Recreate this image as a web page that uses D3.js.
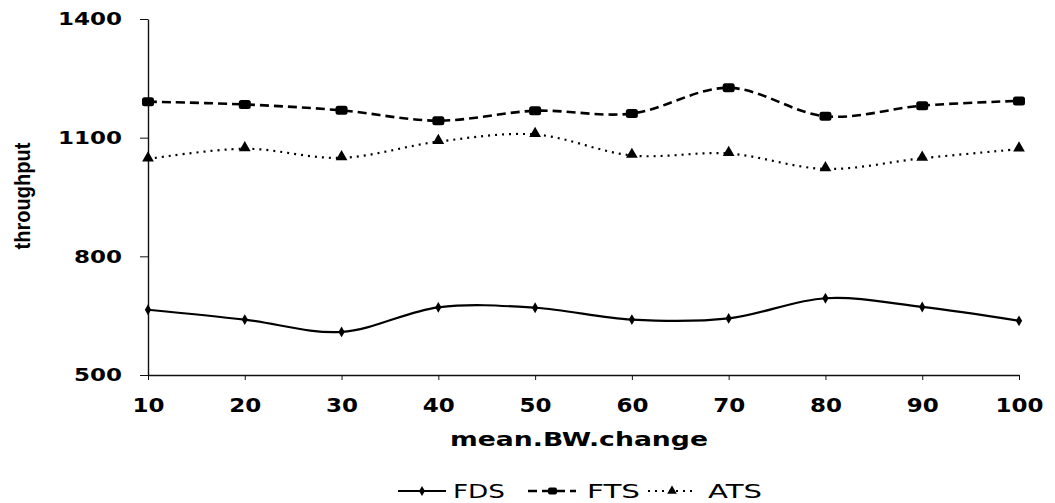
<!DOCTYPE html>
<html>
<head>
<meta charset="utf-8">
<script src="https://cdn.jsdelivr.net/npm/d3@7"></script>
<style>
  body { margin: 0; background: #fff; }
  svg { display: block; }
</style>
</head>
<body>
<div id="chart"></div>
<script>
// values
var categories = [10, 20, 30, 40, 50, 60, 70, 80, 90, 100];
var fds = [665, 640, 609, 671, 670, 640, 643, 694, 672, 637];
var fts = [1191, 1184, 1169, 1143, 1168, 1161, 1226, 1154, 1181, 1193];
var ats = [1046, 1072, 1049, 1090, 1108, 1055, 1060, 1021, 1048, 1071];
var yTicks = [500, 800, 1100, 1400];
var seriesNames = ["FDS", "FTS", "ATS"];

var width = 1055, height = 503;
var margin = { top: 19, right: 36, bottom: 128, left: 148 };

var svg = d3.select("#chart").append("svg")
  .attr("width", width)
  .attr("height", height);

var x = d3.scalePoint()
  .domain(categories)
  .range([margin.left, width - margin.right]);

var y = d3.scaleLinear()
  .domain([500, 1400])
  .range([height - margin.bottom, margin.top]);

var series = [
  { name: seriesNames[0], values: fds, dash: null, width: 2.2, marker: "diamond" },
  { name: seriesNames[1], values: fts, dash: "9,5", width: 2.6, marker: "square" },
  { name: seriesNames[2], values: ats, dash: "2,5", width: 2.2, marker: "triangle" }
];

// axes
var yAxis = svg.append("g")
  .attr("transform", "translate(" + margin.left + ",0)")
  .call(d3.axisLeft(y).tickValues(yTicks).tickFormat(d3.format("d"))
    .tickSize(8).tickSizeOuter(0).tickPadding(18));
yAxis.select(".domain").attr("stroke", "#111").attr("stroke-width", 1.4);
yAxis.selectAll(".tick line").attr("stroke", "#111");
yAxis.selectAll("text")
  .attr("fill", "#000")
  .attr("font-family", "DejaVu Sans")
  .attr("font-weight", "bold")
  .attr("font-size", "18px")
  .attr("textLength", d => String(d).length * 16)
  .attr("lengthAdjust", "spacingAndGlyphs");

var xAxis = svg.append("g")
  .attr("transform", "translate(0," + y(500) + ")")
  .call(d3.axisBottom(x).tickSize(5).tickSizeOuter(0).tickPadding(18));
xAxis.select(".domain").attr("stroke", "#111").attr("stroke-width", 1.6);
xAxis.selectAll(".tick line").attr("stroke", "#111");
xAxis.selectAll("text")
  .attr("fill", "#000")
  .attr("font-family", "DejaVu Sans")
  .attr("font-weight", "bold")
  .attr("font-size", "20px")
  .attr("textLength", d => String(d).length * 16)
  .attr("lengthAdjust", "spacingAndGlyphs");

// axis titles
svg.append("text")
  .attr("x", 579)
  .attr("y", 446)
  .attr("text-anchor", "middle")
  .attr("font-family", "DejaVu Sans")
  .attr("font-weight", "bold")
  .attr("font-size", "19px")
  .attr("textLength", 258)
  .attr("lengthAdjust", "spacingAndGlyphs")
  .text("mean.BW.change");

svg.append("text")
  .attr("transform", "translate(30,196) rotate(-90)")
  .attr("text-anchor", "middle")
  .attr("font-family", "Liberation Sans Narrow, Liberation Sans, sans-serif")
  .attr("font-weight", "bold")
  .attr("font-size", "22px")
  .attr("textLength", 107)
  .attr("lengthAdjust", "spacingAndGlyphs")
  .text("throughput");

// markers
function drawMarker(g, type, cx, cy) {
  if (type === "diamond") {
    g.append("path")
      .attr("d", d3.symbol().type(d3.symbolDiamond).size(34)())
      .attr("transform", "translate(" + cx + "," + cy + ")")
      .attr("fill", "#000");
  } else if (type === "square") {
    g.append("rect")
      .attr("x", cx - 6).attr("y", cy - 4.5)
      .attr("width", 12).attr("height", 9)
      .attr("rx", 2.5)
      .attr("fill", "#000");
  } else {
    g.append("path")
      .attr("d", d3.symbol().type(d3.symbolTriangle).size(60)())
      .attr("transform", "translate(" + cx + "," + (cy - 1) + ")")
      .attr("fill", "#000");
  }
}

var line = d3.line()
  .x((d, i) => x(categories[i]))
  .y(d => y(d))
  .curve(d3.curveCardinal.tension(0));

series.forEach(function(s) {
  var g = svg.append("g");
  g.append("path")
    .datum(s.values)
    .attr("d", line)
    .attr("fill", "none")
    .attr("stroke", "#000")
    .attr("stroke-width", s.width)
    .attr("stroke-dasharray", s.dash);
  s.values.forEach(function(v, i) {
    drawMarker(g, s.marker, x(categories[i]), y(v));
  });
});

// legend
var legendY = 491;
var legendItems = [
  { s: series[0], x0: 398, tx: 453, tw: 52 },
  { s: series[1], x0: 528, tx: 587, tw: 53 },
  { s: series[2], x0: 648, tx: 708, tw: 54 }
];
legendItems.forEach(function(it) {
  var g = svg.append("g");
  g.append("line")
    .attr("x1", it.x0).attr("x2", it.x0 + 48)
    .attr("y1", legendY).attr("y2", legendY)
    .attr("stroke", "#000")
    .attr("stroke-width", it.s.width)
    .attr("stroke-dasharray", it.s.dash);
  if (it.s.marker === "diamond") {
    g.append("path")
      .attr("d", d3.symbol().type(d3.symbolDiamond).size(30)())
      .attr("transform", "translate(" + (it.x0 + 24) + "," + legendY + ")");
  } else if (it.s.marker === "square") {
    g.append("rect").attr("x", it.x0 + 20).attr("y", legendY - 3.5)
      .attr("width", 9).attr("height", 7).attr("rx", 2);
  } else {
    g.append("path")
      .attr("d", d3.symbol().type(d3.symbolTriangle).size(40)())
      .attr("transform", "translate(" + (it.x0 + 24) + "," + legendY + ")");
  }
  g.append("text")
    .attr("x", it.tx)
    .attr("y", legendY + 7)
    .attr("font-family", "DejaVu Sans")
    .attr("font-size", "19px")
    .attr("textLength", it.tw)
    .attr("lengthAdjust", "spacingAndGlyphs")
    .text(it.s.name);
});
</script>
</body>
</html>
